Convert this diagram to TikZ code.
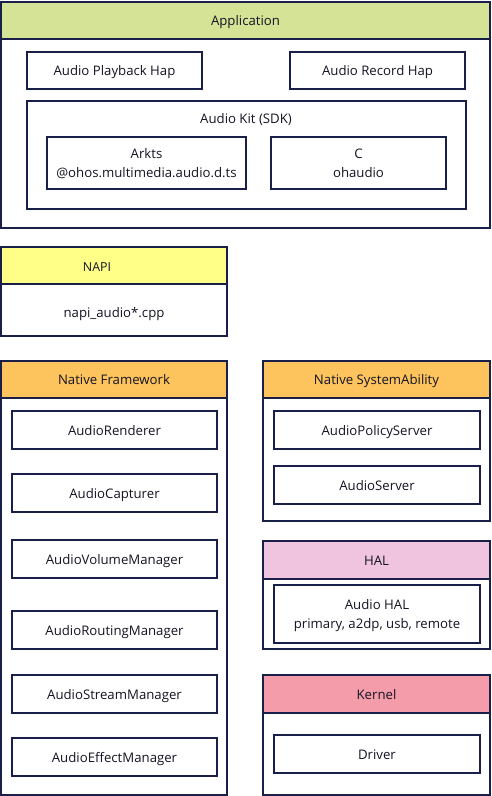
\documentclass[tikz,border=0pt]{standalone}
\usepackage{fontspec}
\setmainfont{Open Sans}
\definecolor{bc}{HTML}{1A1F4A}
\definecolor{txt}{HTML}{141424}
\definecolor{appgreen}{HTML}{D5E396}
\definecolor{napiyellow}{HTML}{FFFF88}
\definecolor{fworange}{HTML}{FDC35D}
\definecolor{halpink}{HTML}{F0C4DE}
\definecolor{kernpink}{HTML}{F59CAB}
\tikzset{
  frame/.style={draw=bc, line width=1.1pt, fill=white, inner sep=0pt, outer sep=0pt, anchor=north west},
  head/.style={draw=bc, line width=1.1pt, inner sep=0pt, outer sep=0pt, anchor=north west, text=txt, font=\fontsize{13.2}{16}\selectfont, text height=10.6pt, text depth=0pt},
  item/.style={draw=bc, line width=1.1pt, fill=white, inner sep=0pt, outer sep=0pt, anchor=north west, text=txt, align=center, font=\fontsize{13.2}{19}\selectfont, text depth=0pt},
  one/.style={text height=10.6pt},
  lbl/.style={text=txt, inner sep=0pt, font=\fontsize{13.2}{16}\selectfont, text height=10.6pt, text depth=0pt},
}
\begin{document}
\begin{tikzpicture}[x=1pt,y=-1pt]
\useasboundingbox (0,0) rectangle (492,796);
% Application
\node[frame, minimum width=489pt, minimum height=226pt] (app) at (1,2) {};
\node[head, fill=appgreen, minimum width=489pt, minimum height=37pt] (apph) at (1,2) {Application};
\node[item, one, minimum width=175pt, minimum height=37pt] (play) at (27,52) {Audio Playback Hap};
\node[item, one, minimum width=175pt, minimum height=37pt] (rec) at (290,52) {Audio Record Hap};
\node[frame, minimum width=439pt, minimum height=108pt] (kit) at (27,101) {};
\node[lbl] (kitl) at (246,118) {Audio Kit (SDK)};
\node[item, minimum width=199pt, minimum height=52pt] (arkts) at (47,137) {Arkts\\@ohos.multimedia.audio.d.ts};
\node[item, minimum width=175pt, minimum height=52pt] (capi) at (271,137) {C\\ohaudio};
% NAPI
\node[frame, minimum width=226pt, minimum height=89pt] (napi) at (1,247) {};
\node[head, fill=napiyellow, minimum width=226pt, minimum height=37pt] (napih) at (1,247) {};
\node[lbl, font=\fontsize{12.4}{14}\selectfont, text height=10pt] (napil) at (97,266) {NAPI};
\node[lbl] (napic) at (114,312) {napi\_audio*.cpp};
% Native Framework
\node[frame, minimum width=226pt, minimum height=434pt] (nf) at (1,361) {};
\node[head, fill=fworange, minimum width=226pt, minimum height=37pt] (nfh) at (1,361) {Native Framework};
\node[item, one, minimum width=205pt, minimum height=38pt] (ren) at (12,411) {AudioRenderer};
\node[item, one, minimum width=205pt, minimum height=38pt] (cap) at (12,474) {AudioCapturer};
\node[item, one, minimum width=205pt, minimum height=38pt] (vol) at (12,540) {AudioVolumeManager};
\node[item, one, minimum width=205pt, minimum height=38pt] (rout) at (12,611) {AudioRoutingManager};
\node[item, one, minimum width=205pt, minimum height=38pt] (strm) at (12,675) {AudioStreamManager};
\node[item, one, minimum width=205pt, minimum height=38pt] (eff) at (12,738) {AudioEffectManager};
% Native SystemAbility
\node[frame, minimum width=227pt, minimum height=160pt] (sa) at (263,361) {};
\node[head, fill=fworange, minimum width=227pt, minimum height=37pt] (sah) at (263,361) {Native SystemAbility};
\node[item, one, minimum width=206pt, minimum height=38pt] (pol) at (274,411) {AudioPolicyServer};
\node[item, one, minimum width=206pt, minimum height=38pt] (srv) at (274,466) {AudioServer};
% HAL
\node[frame, minimum width=227pt, minimum height=108pt] (hal) at (263,541) {};
\node[head, fill=halpink, minimum width=227pt, minimum height=38pt] (halh) at (263,541) {HAL};
\node[item, minimum width=206pt, minimum height=58pt] (ahal) at (274,585) {Audio HAL\\primary, a2dp, usb, remote};
% Kernel
\node[frame, minimum width=227pt, minimum height=120pt] (ker) at (263,675) {};
\node[head, fill=kernpink, minimum width=227pt, minimum height=38pt] (kerh) at (263,675) {Kernel};
\node[item, one, minimum width=206pt, minimum height=38pt] (drv) at (274,735) {Driver};
\end{tikzpicture}
\end{document}
